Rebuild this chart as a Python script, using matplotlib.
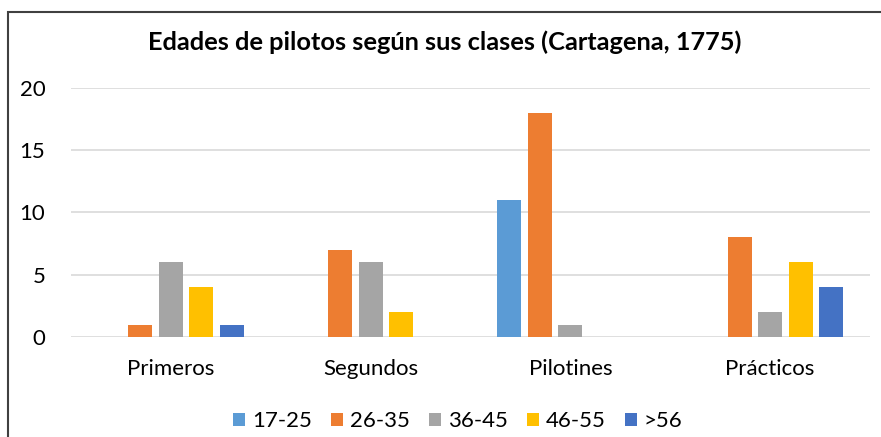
import numpy as np
import matplotlib.pyplot as plt
from matplotlib.patches import Rectangle

plt.rcParams['font.family'] = ['Lato', 'DejaVu Sans']

# Data
categories = ['Primeros', 'Segundos', 'Pilotines', 'Prácticos']
series = ['17-25', '26-35', '36-45', '46-55', '>56']
values = {
    '17-25': [0, 0, 11, 0],
    '26-35': [1, 7, 18, 8],
    '36-45': [6, 6, 1, 2],
    '46-55': [4, 2, 0, 6],
    '>56': [1, 0, 0, 4],
}
colors = ['#5B9BD5', '#ED7D31', '#A5A5A5', '#FFC000', '#4472C4']
title = 'Edades de pilotos según sus clases (Cartagena, 1775)'

W, H = 881, 437
fig = plt.figure(figsize=(W / 100, H / 100), dpi=100)
ax = fig.add_axes([71 / W, 1 - 337 / H, (870 - 71) / W, (337 - 88) / H])

x = np.arange(len(categories))
step = 0.153
width = 0.12
for i, s in enumerate(series):
    ax.bar(x + (i - 2) * step, values[s], width, color=colors[i], label=s, zorder=3)

ax.set_xlim(-0.5, len(categories) - 0.5)
ax.set_ylim(0, 20)
ax.set_yticks([0, 5, 10, 15, 20])
ax.set_xticks(x)
ax.set_xticklabels(categories)
ax.grid(axis='y', color='#D9D9D9', linewidth=1.2, zorder=0)
for sp in ax.spines.values():
    sp.set_visible(False)
ax.tick_params(axis='both', length=0, labelsize=16, colors='#000000')
ax.tick_params(axis='x', pad=16)
ax.tick_params(axis='y', pad=18.5)

fig.text(445 / W, 1 - 42 / H, title, ha='center', va='center',
         fontsize=18.3, fontweight='bold')

fig.legend(loc='center', bbox_to_anchor=(458 / W, 1 - 421 / H), ncol=5,
           frameon=False, fontsize=16, handlelength=0.54, handleheight=0.54,
           handletextpad=0.32, columnspacing=0.85)

# chart border
fig.patches.append(Rectangle((7.5 / W, -0.1), 1.2, 1 - 11.5 / H + 0.1,
                             transform=fig.transFigure, fill=False,
                             edgecolor='#404040', linewidth=1.5))

fig.savefig('out.png', dpi=100)
